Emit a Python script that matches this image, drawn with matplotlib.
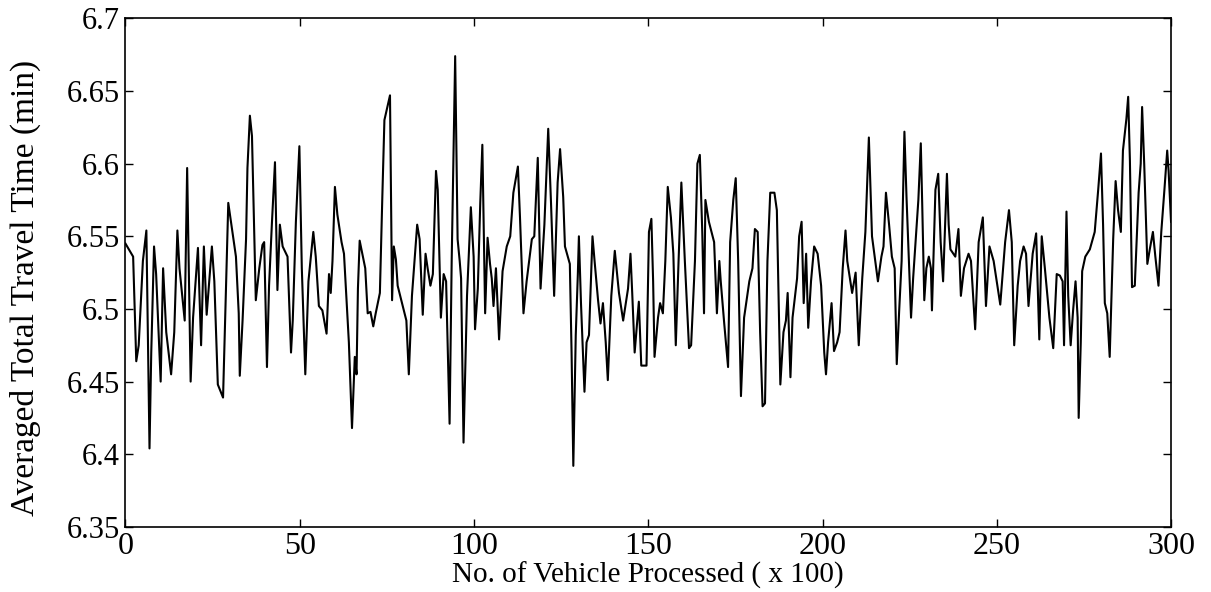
import numpy as np
import matplotlib
matplotlib.use("Agg")
import matplotlib.pyplot as plt

plt.rcParams['font.family'] = ['Liberation Serif', 'DejaVu Serif']

# vertices (vehicles x100, averaged travel time in min)
x_part1 = [0, 2.2, 3.1, 3.8, 5.0, 6.0, 6.9, 7.4, 8.2, 8.8, 10.1, 10.8, 11.7, 13.1, 14.0,
           14.9, 15.5, 17.0, 17.7, 18.7, 19.4, 20.8, 21.7, 22.5, 23.3, 24.8, 25.5, 26.5,
           28.0, 29.5, 30.7]
y_part1 = [6.545, 6.536, 6.464, 6.475, 6.533, 6.554, 6.404, 6.47, 6.543, 6.524, 6.45, 6.528,
           6.484, 6.455, 6.484, 6.554, 6.528, 6.492, 6.597, 6.45, 6.494, 6.542, 6.475, 6.543,
           6.496, 6.543, 6.519, 6.448, 6.439, 6.573, 6.553]

x_part2 = [31.7, 32.5, 32.8, 33.6, 34.6, 35.0, 35.7, 36.3, 37.4, 38.4, 39.3, 39.8, 40.6, 41.2,
           42.0, 42.9, 43.6, 44.3, 45.1, 46.5, 47.5, 48.0, 48.9, 49.9, 50.6, 51.6, 52.5, 53.9,
           54.6, 55.5, 56.5, 57.7, 58.4, 58.9, 59.4, 60.1, 60.8, 62.0, 62.7, 64.1, 65.0]
y_part2 = [6.536, 6.497, 6.454, 6.492, 6.548, 6.597, 6.633, 6.619, 6.506, 6.528, 6.544, 6.546,
           6.46, 6.516, 6.558, 6.601, 6.513, 6.558, 6.543, 6.536, 6.47, 6.492, 6.56, 6.612,
           6.528, 6.455, 6.519, 6.553, 6.536, 6.502, 6.499, 6.483, 6.524, 6.511, 6.533, 6.584,
           6.565, 6.546, 6.538, 6.477, 6.418]

x_part3 = [65.8, 66.3, 66.7, 67.2, 68.8, 69.5, 70.3, 71.1, 71.8, 73.0, 73.7, 74.3, 75.9, 76.5,
           77.0, 77.6, 78.1, 80.6, 81.3, 82.2, 83.7, 84.4, 85.3, 86.1, 86.7, 87.5, 88.2, 89.1,
           89.6, 90.5, 91.3, 92.0, 93.0, 93.6, 94.6, 95.3, 95.9, 96.3, 97.0, 98.0, 99.1]
y_part3 = [6.467, 6.455, 6.514, 6.547, 6.528, 6.497, 6.498, 6.488, 6.497, 6.511, 6.577, 6.63,
           6.647, 6.506, 6.543, 6.534, 6.516, 6.492, 6.455, 6.509, 6.558, 6.548, 6.496, 6.538,
           6.528, 6.516, 6.524, 6.595, 6.582, 6.494, 6.524, 6.519, 6.421, 6.533, 6.674, 6.548,
           6.533, 6.521, 6.408, 6.509, 6.57]

x_part4 = [99.9, 100.3, 101.1, 101.8, 102.4, 103.2, 103.9, 104.6, 105.1, 105.6, 106.3, 107.2,
           108.2, 109.4, 110.4, 111.3, 112.6, 113.2, 114.2, 115.1, 116.6, 117.3, 118.3, 119.1,
           120.2, 121.3, 122.1, 123.0, 124.0, 124.7, 125.6, 126.1, 127.5, 128.0, 128.5, 129.2,
           129.8, 130.1, 130.7, 131.7, 132.3, 133.0, 134.0]
y_part4 = [6.536, 6.486, 6.514, 6.573, 6.613, 6.497, 6.549, 6.531, 6.521, 6.502, 6.528, 6.479,
           6.526, 6.543, 6.55, 6.58, 6.598, 6.563, 6.497, 6.519, 6.548, 6.55, 6.604, 6.514,
           6.558, 6.624, 6.573, 6.509, 6.587, 6.61, 6.577, 6.543, 6.531, 6.47, 6.392, 6.482,
           6.524, 6.55, 6.504, 6.443, 6.477, 6.482, 6.55]

x_part5 = [134.6, 135.6, 136.3, 137.0, 137.8, 138.4, 139.4, 140.4, 141.6, 142.8, 144.2, 144.9,
           145.4, 146.1, 146.8, 147.3, 148.0, 149.5, 150.2, 150.9, 151.4, 151.8, 152.8, 153.4,
           154.2, 154.9, 155.6, 156.5, 157.2, 157.9, 158.7, 159.5, 160.5, 161.7, 162.3, 163.4,
           164.1, 164.8, 165.5, 166.0, 166.4, 167.4]
y_part5 = [6.533, 6.506, 6.49, 6.504, 6.477, 6.451, 6.509, 6.54, 6.511, 6.492, 6.514, 6.538,
           6.511, 6.47, 6.49, 6.505, 6.461, 6.461, 6.553, 6.562, 6.519, 6.467, 6.494, 6.504,
           6.497, 6.533, 6.584, 6.563, 6.538, 6.475, 6.533, 6.587, 6.533, 6.473, 6.475, 6.533,
           6.6, 6.606, 6.553, 6.497, 6.575, 6.56]

x_part6 = [168.9, 169.7, 170.4, 170.8, 171.8, 172.9, 173.5, 174.4, 175.1, 175.8, 176.6, 177.5,
           179.0, 179.9, 180.6, 181.4, 182.1, 182.8, 183.5, 184.2, 185.0, 186.2, 186.9, 187.9,
           188.8, 189.5, 190.0, 190.8, 191.4, 192.7, 193.3, 194.0, 194.6, 195.3, 195.9, 196.7,
           197.6, 198.6, 199.6, 200.5, 201.0]
y_part6 = [6.546, 6.497, 6.533, 6.519, 6.49, 6.46, 6.546, 6.575, 6.59, 6.533, 6.44, 6.494,
           6.519, 6.528, 6.555, 6.553, 6.484, 6.433, 6.435, 6.533, 6.58, 6.58, 6.568, 6.448,
           6.484, 6.492, 6.511, 6.453, 6.494, 6.521, 6.55, 6.56, 6.504, 6.538, 6.487, 6.519,
           6.543, 6.538, 6.516, 6.47, 6.455]

x_part7 = [201.6, 202.6, 203.3, 204.2, 204.9, 205.8, 206.6, 207.1, 208.5, 209.5, 210.4, 211.4,
           212.3, 213.3, 214.2, 215.9, 216.9, 217.5, 218.2, 219.1, 219.9, 220.7, 221.3, 222.0,
           222.7, 223.5, 224.1, 225.4, 226.0, 227.5, 228.2, 228.6, 229.2, 229.8, 230.5, 231.1,
           231.4, 232.4, 233.2, 233.9, 234.6]
y_part7 = [6.477, 6.504, 6.471, 6.477, 6.484, 6.528, 6.554, 6.533, 6.511, 6.525, 6.475, 6.521,
           6.553, 6.618, 6.55, 6.519, 6.536, 6.543, 6.58, 6.558, 6.536, 6.528, 6.462, 6.499,
           6.533, 6.622, 6.577, 6.494, 6.521, 6.575, 6.614, 6.573, 6.506, 6.528, 6.536, 6.528,
           6.499, 6.582, 6.593, 6.546, 6.519]

x_part8 = [235.7, 236.2, 236.7, 238.1, 239.0, 239.7, 240.6, 241.9, 242.6, 243.8, 244.8, 246.0,
           246.9, 247.9, 249.1, 251.0, 252.4, 253.5, 254.3, 255.0, 256.0, 256.7, 257.7, 258.4,
           259.1, 260.3, 261.3, 262.2, 262.9, 263.8, 265.1, 266.2, 267.2, 268.1, 268.9]
y_part8 = [6.593, 6.558, 6.541, 6.536, 6.555, 6.509, 6.528, 6.538, 6.533, 6.486, 6.546, 6.563,
           6.502, 6.543, 6.533, 6.503, 6.546, 6.568, 6.546, 6.475, 6.516, 6.533, 6.543, 6.538,
           6.502, 6.538, 6.552, 6.479, 6.55, 6.528, 6.494, 6.473, 6.524, 6.523, 6.519]

x_part9 = [269.3, 270.0, 270.5, 271.2, 271.9, 272.6, 273.2, 273.5, 274.1, 274.5, 275.4, 276.7,
           278.1, 279.1, 279.9, 280.5, 281.0, 281.7, 282.4, 283.4, 284.1, 284.8, 285.6, 286.2,
           287.2, 287.7, 288.2, 288.8, 289.6, 290.7, 291.3, 291.7, 292.3, 293.2, 293.9, 294.8,
           295.5, 296.4, 297.2, 298.1, 298.9, 299.3, 300.0]
y_part9 = [6.475, 6.567, 6.509, 6.475, 6.499, 6.519, 6.494, 6.425, 6.477, 6.526, 6.536, 6.541,
           6.553, 6.582, 6.607, 6.558, 6.504, 6.497, 6.467, 6.548, 6.588, 6.568, 6.553, 6.609,
           6.631, 6.646, 6.602, 6.515, 6.516, 6.58, 6.6, 6.639, 6.6, 6.531, 6.541, 6.553,
           6.536, 6.516, 6.553, 6.582, 6.609, 6.595, 6.56]

x_vals = np.concatenate([x_part1, x_part2, x_part3, x_part4, x_part5, x_part6, x_part7,
                         x_part8, x_part9])
y_vals = np.concatenate([y_part1, y_part2, y_part3, y_part4, y_part5, y_part6, y_part7,
                         y_part8, y_part9])

x_ticks = [0, 50, 100, 150, 200, 250, 300]
y_ticks = [6.35, 6.4, 6.45, 6.5, 6.55, 6.6, 6.65, 6.7]
y_ticklabels = ['6.35', '6.4', '6.45', '6.5', '6.55', '6.6', '6.65', '6.7']

fig = plt.figure(figsize=(12.11, 5.92), dpi=100)
ax = fig.add_axes([0.1036, 0.11, 0.8634, 0.859])

ax.plot(x_vals, y_vals, color='black', linewidth=1.5)

ax.set_xlim(0, 300)
ax.set_ylim(6.35, 6.7)
ax.set_xticks(x_ticks)
ax.set_yticks(y_ticks)
ax.set_yticklabels(y_ticklabels)
ax.tick_params(direction='in', top=True, right=True, length=6, width=1)
ax.tick_params(axis='x', labelsize=23, pad=4)
ax.tick_params(axis='y', labelsize=22, pad=4)
for s in ax.spines.values():
    s.set_linewidth(1.2)

ax.set_xlabel('No. of Vehicle Processed ( x 100)', fontsize=21, labelpad=0)
ax.set_ylabel('Averaged Total Travel Time (min)', fontsize=24)
ax.yaxis.set_label_coords(-0.081, 0.47)

fig.savefig('out.png', dpi=100)
